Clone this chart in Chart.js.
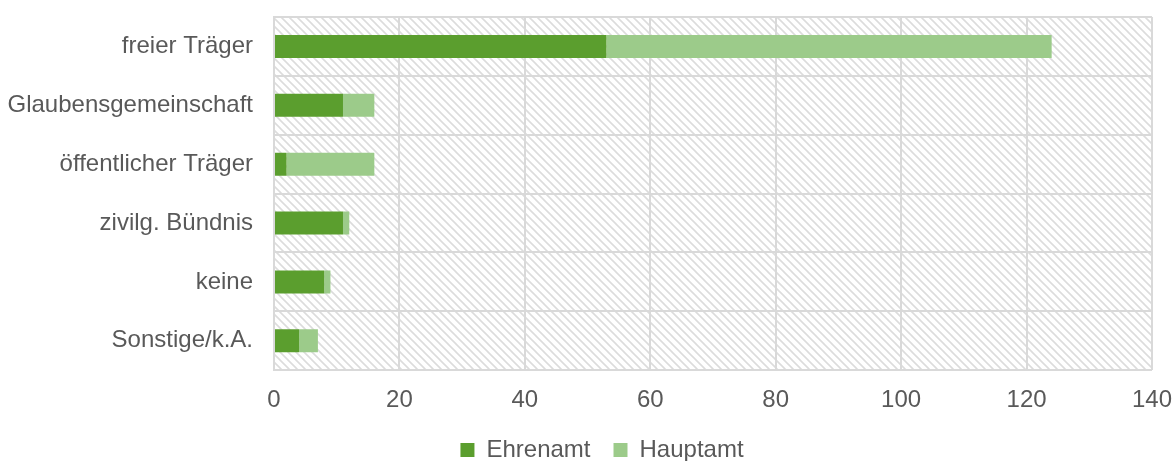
<!DOCTYPE html>
<html>
<head>
<meta charset="utf-8">
<script src="https://cdn.jsdelivr.net/npm/chart.js@4.4.1/dist/chart.umd.min.js"></script>
<style>
html,body{margin:0;padding:0;background:#fff;}
#wrap{width:1173px;height:461px;position:relative;}
</style>
</head>
<body>
<div id="wrap"><canvas id="c" width="1173" height="461"></canvas></div>
<script>
const categories = ["freier Träger","Glaubensgemeinschaft","öffentlicher Träger","zivilg. Bündnis","keine","Sonstige/k.A."];
const ehrenamt = [53, 11, 2, 11, 8, 4];
const hauptamt = [71, 5, 14, 1, 1, 3];
const xTicks = [0, 20, 40, 60, 80, 100, 120, 140];

function makePattern(ctx){
  const p = document.createElement('canvas');
  p.width = 8; p.height = 8;
  const g = p.getContext('2d');
  g.fillStyle = '#ffffff';
  g.fillRect(0,0,8,8);
  g.strokeStyle = '#dcdcdc';
  g.lineWidth = 1.6;
  g.beginPath();
  g.moveTo(-2,-2); g.lineTo(10,10);
  g.moveTo(-2,6); g.lineTo(2,10);
  g.moveTo(6,-2); g.lineTo(10,2);
  g.stroke();
  return ctx.createPattern(p,'repeat');
}

const bgPlugin = {
  id:'bg',
  beforeDraw(chart){
    const {ctx, chartArea:a} = chart;
    ctx.save();
    ctx.fillStyle = makePattern(ctx);
    ctx.fillRect(a.left, a.top, a.right-a.left, a.bottom-a.top);
    ctx.restore();
  }
};
const legendShift = {
  id:'legendShift',
  afterLayout(chart){
    if (chart.legend) { chart.legend.left += 26; chart.legend.right += 26; }
  }
};

const clear = 'rgba(0,0,0,0)';
const font = {family:"'Liberation Sans', Arial, sans-serif", size:24};
new Chart(document.getElementById('c'), {
  type:'bar',
  data:{
    labels:categories,
    datasets:[
      {label:'Ehrenamt', data:ehrenamt, backgroundColor:'#5b9e2e', barPercentage:0.39, categoryPercentage:1},
      {label:'Hauptamt', data:hauptamt, backgroundColor:'#9ccb8a', barPercentage:0.39, categoryPercentage:1}
    ]
  },
  options:{
    indexAxis:'y',
    responsive:false,
    animation:false,
    layout:{padding:{top:17,right:21,bottom:-11,left:0}},
    plugins:{
      legend:{position:'bottom', labels:{font:font, color:'#595959', boxWidth:14, boxHeight:14, padding:23}},
      tooltip:{enabled:false}
    },
    scales:{
      x:{
        stacked:true, min:0, max:140,
        afterBuildTicks(s){ s.ticks = xTicks.map(v=>({value:v})); },
        ticks:{font:font, color:'#595959', padding:0},
        grid:{color:'#d9d9d9', lineWidth:2, drawTicks:true, tickLength:16, tickColor:clear},
        border:{display:false}
      },
      y:{
        stacked:true,
        afterFit(s){ s.width = 274; },
        ticks:{font:font, color:'#595959', padding:0},
        grid:{color:'#d9d9d9', lineWidth:2, drawTicks:true, tickLength:21, tickColor:clear, offset:true},
        border:{color:'#d9d9d9', width:2}
      }
    }
  },
  plugins:[bgPlugin, legendShift]
});
</script>
</body>
</html>
